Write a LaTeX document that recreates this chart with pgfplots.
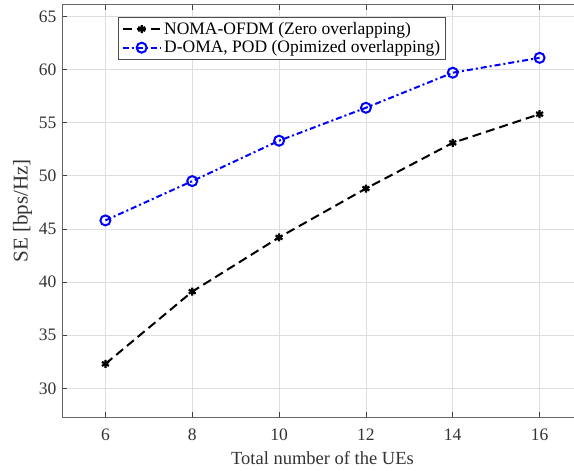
\documentclass[border=0pt]{standalone}
\usepackage{pgfplots}
\pgfplotsset{compat=1.18}
\usepackage{fontspec}
\setmainfont{Liberation Serif}
\begin{document}
\begin{tikzpicture}
\begin{axis}[
    at={(0,0)}, anchor=south west,
    scale only axis,
    width=521pt, height=412.3pt,
    xmin=5, xmax=17,
    ymin=27.3, ymax=66.1,
    xtick={6,8,...,16},
    ytick={30,35,...,65},
    grid=major,
    major grid style={color=black!13, line width=0.7pt},
    axis line style={color=black!60, line width=0.9pt},
    tick style={color=black!75, line width=0.8pt},
    tick align=inside,
    major tick length=5pt,
    /pgf/number format/assume math mode=true,
    tick label style={font=\fontsize{17.5}{20}\selectfont, text=black!80},
    xticklabel style={yshift=-8pt},
    yticklabel style={xshift=-2pt},
    label style={text=black!80},
    xlabel={Total number of the UEs},
    ylabel={SE [bps/Hz]},
    xlabel style={font=\fontsize{18.5}{22}\selectfont, yshift=-4pt},
    ylabel style={font=\fontsize{21}{24}\selectfont, yshift=0pt},
    legend style={at={(0.108,0.9694)}, anchor=north west,
        draw=black!70, line width=0.8pt,
        font=\fontsize{17.5}{20}\selectfont,
        inner xsep=3pt, inner ysep=2pt,
        nodes={inner sep=2.5pt},
        row sep=0pt},
    legend cell align=left,
    legend image code/.code={
        \draw[mark repeat=2, mark phase=2, #1]
        plot coordinates {(0pt,0pt) (19pt,0pt) (38pt,0pt)};
    },
]
\addplot[black, line width=2pt, dash pattern=on 9pt off 5pt,
    mark=asterisk, mark size=4pt,
    mark options={solid, line width=2.2pt}] coordinates {
  (6, 32.3) (8, 39.1) (10, 44.2) (12, 48.8) (14, 53.1) (16, 55.8)
};
\addlegendentry{NOMA-OFDM (Zero overlapping)}

\addplot[blue, line width=2pt, dash pattern=on 6pt off 3pt on 2pt off 3pt,
    mark=o, mark size=5pt,
    mark options={solid, line width=2pt}] coordinates {
  (6, 45.8) (8, 49.5) (10, 53.3) (12, 56.4) (14, 59.7) (16, 61.1)
};
\addlegendentry{D-OMA, POD (Opimized overlapping)}
\end{axis}
\pgfresetboundingbox
\path[use as bounding box] (-62pt,-54pt) rectangle (512pt,417pt);
\end{tikzpicture}
\end{document}
